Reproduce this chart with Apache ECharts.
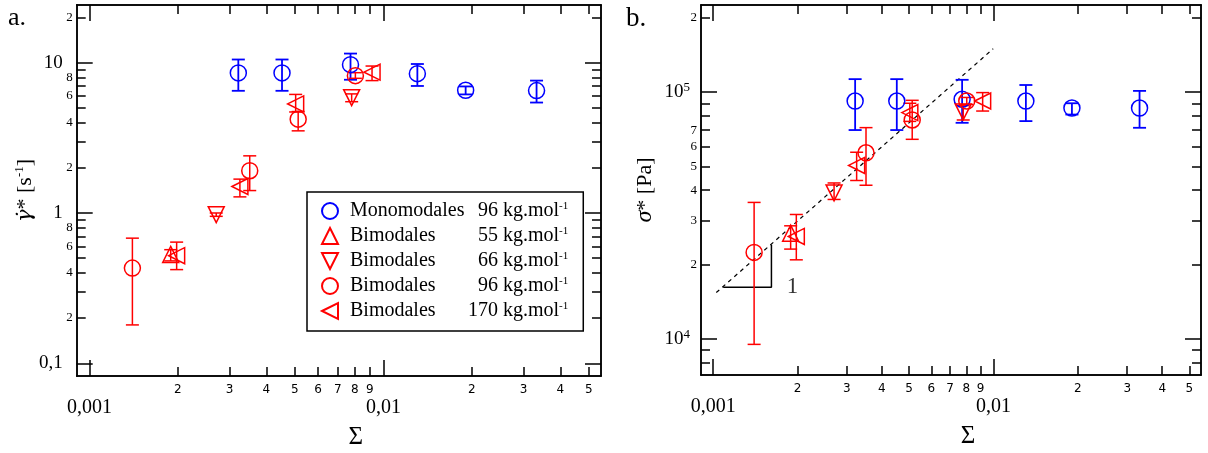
<!DOCTYPE html>
<html>
<head>
<meta charset="utf-8">
<script src="https://cdn.jsdelivr.net/npm/echarts@6/dist/echarts.min.js"></script>
<style>
html,body{margin:0;padding:0;background:#fff;}
#chart{width:1208px;height:453px;}
</style>
</head>
<body>
<div id="chart"></div>
<script>
// ---------- data ----------
// Sigma positions of each sample group
const sigMono = [0.00321, 0.00452, 0.00773, 0.01305, 0.01905, 0.0332];
const sig55   = [0.00189];
const sig66   = [0.0027, 0.0078];
const sig96   = [0.0014, 0.00351, 0.00513, 0.00803];
const sig170  = [0.00198, 0.00325, 0.00503, 0.00915];

// panel a : gamma-dot* [s-1]
const gamMono   = [8.55, 8.55, 9.7, 8.45, 6.55, 6.52];
const gamMonoLo = [6.5, 6.5, 7.7, 7.0, 6.15, 5.43];
const gamMonoHi = [10.5, 10.5, 11.5, 9.8, 6.95, 7.6];
const gam55   = [0.53];  const gam55Lo = [0.48]; const gam55Hi = [0.57];
const gam66   = [0.975, 5.85]; const gam66Lo = [0.95, 5.5]; const gam66Hi = [1.0, 6.2];
const gam96   = [0.43, 1.91, 4.21, 8.2]; const gam96Lo = [0.18, 1.41, 3.52, 7.87]; const gam96Hi = [0.68, 2.4, 4.73, 8.58];
const gam170  = [0.52, 1.5, 5.32, 8.65]; const gam170Lo = [0.42, 1.28, 4.7, 7.6]; const gam170Hi = [0.64, 1.68, 6.15, 9.5];

// panel b : sigma* [Pa]
const sgmMono   = [91900, 91900, 93400, 91900, 86100, 86100];
const sgmMonoLo = [70100, 70100, 75000, 76200, 81000, 71600];
const sgmMonoHi = [112700, 112700, 112000, 106700, 90000, 101000];
const sgm55   = [26800]; const sgm55Lo = [23100]; const sgm55Hi = [28700];
const sgm66   = [39000, 83000]; const sgm66Lo = [36700, 77000]; const sgm66Hi = [42800, 88000];
const sgm96   = [22400, 56700, 77000, 91900]; const sgm96Lo = [9500, 41900, 64300, 89000]; const sgm96Hi = [35700, 71700, 92500, 95000];
const sgm170  = [26000, 50400, 82500, 91900]; const sgm170Lo = [20900, 43800, 76000, 83700]; const sgm170Hi = [31900, 57000, 90000, 99400];

// slope-1 guide line and slope triangle (panel b)
const guideX = [0.001026, 0.00998];
const guideY = [15400, 149700];
const triX = [0.001086, 0.001614, 0.001614];
const triY = [16180, 16180, 24050];
const slopeLabelPos = [0.00192, 16180];

// legend texts
const seriesNames = ['Monomodales 96', 'Bimodales 55', 'Bimodales 66', 'Bimodales 96', 'Bimodales 170'];
const legendKind = ['Monomodales', 'Bimodales', 'Bimodales', 'Bimodales', 'Bimodales'];
const legendMass = ['96', '55', '66', '96', '170'];

// axis ranges & ticks
const xRange = [0.000905, 0.055];
const yRangeA = [0.0823, 24.2];
const yRangeB = [7140, 225000];
const xMajorTicks = [0.001, 0.01];
const xMajorText = ['0,001', '0,01'];
const xMinorTicks = [0.002, 0.003, 0.004, 0.005, 0.006, 0.007, 0.008, 0.009, 0.02, 0.03, 0.04, 0.05];
const yMajorTicksA = [0.1, 1, 10];
const yMajorTextA = ['0,1', '1', '10'];
const yMinorTicksA = [0.2, 0.3, 0.4, 0.5, 0.6, 0.7, 0.8, 0.9, 2, 3, 4, 5, 6, 7, 8, 9, 20];
const yMinorLabelsA = [0.2, 0.4, 0.6, 0.8, 2, 4, 6, 8, 20];
const yMajorTicksB = [10000, 100000];
const yMajorExpB = ['4', '5'];
const yMinorTicksB = [8000, 9000, 20000, 30000, 40000, 50000, 60000, 70000, 80000, 90000, 200000];
const yMinorLabelsB = [20000, 30000, 40000, 50000, 60000, 70000, 200000];

// ---------- helpers ----------
const SERIF = 'Liberation Serif';
const RED = '#ff0000', BLUE = '#0000ff';
function nearestIdx(arr, v) {
  let best = 0, bd = Infinity;
  arr.forEach((a, i) => { const d = Math.abs(Math.log10(a) - Math.log10(v)); if (d < bd) { bd = d; best = i; } });
  return best;
}
function leadDigit(v) {
  return String(Math.round(v / Math.pow(10, Math.floor(Math.log10(v) + 1e-9))));
}
function axis(gridIndex, position, range, tickVals, tickLen, labelVals, labelFmt, labelStyle, extra) {
  return Object.assign({
    type: 'log', logBase: 10, gridIndex, position, min: range[0], max: range[1],
    axisLine: { show: true, lineStyle: { color: '#000', width: 1.5 } },
    axisTick: { show: true, inside: true, length: tickLen, customValues: tickVals, lineStyle: { color: '#000', width: 1.5 } },
    axisLabel: labelVals ? Object.assign({ show: true, customValues: labelVals, formatter: labelFmt, color: '#000' }, labelStyle) : { show: false },
    splitLine: { show: false }, minorTick: { show: false }, minorSplitLine: { show: false },
    axisPointer: { show: false }
  }, extra || {});
}
const minorXLabel = { fontFamily: 'DejaVu Sans', fontSize: 12, margin: 8 };
const majorXLabel = { fontFamily: SERIF, fontSize: 20, margin: 22 };
const minorYLabel = { fontFamily: SERIF, fontSize: 13, margin: 4 };
const majorYLabel = { fontFamily: SERIF, fontSize: 19, margin: 14 };

function xAxesFor(g) {
  return [
    axis(g, 'bottom', xRange, xMinorTicks, 9, xMinorTicks, leadDigit, minorXLabel,
      { name: 'Σ', nameLocation: 'middle', nameGap: 49,
        nameTextStyle: { fontFamily: SERIF, fontSize: 25, color: '#000', padding: [0, 0, 0, 34] } }),
    axis(g, 'top', xRange, xMinorTicks, 9, null),
    axis(g + 1, 'bottom', xRange, xMajorTicks, 16, xMajorTicks, v => xMajorText[nearestIdx(xMajorTicks, v)], majorXLabel),
    axis(g + 1, 'top', xRange, xMajorTicks, 16, null)
  ];
}

const yAxes = [
  axis(0, 'left', yRangeA, yMinorTicksA, 9, yMinorLabelsA, leadDigit, minorYLabel,
    { name: '{g|γ\u0307}{t|* [s}{s|-1}{t|]}', nameLocation: 'middle', nameGap: 38, nameRotate: 90,
      nameTextStyle: { fontFamily: SERIF, fontSize: 22, color: '#000',
        rich: { g: { fontFamily: 'DejaVu Serif', fontSize: 21, fontStyle: 'italic', lineHeight: 26 },
                t: { fontFamily: SERIF, fontSize: 22, lineHeight: 26 },
                s: { fontFamily: SERIF, fontSize: 13, lineHeight: 14, verticalAlign: 'top' } } } }),
  axis(0, 'right', yRangeA, yMinorTicksA, 9, null),
  axis(1, 'left', yRangeA, yMajorTicksA, 16, yMajorTicksA, v => yMajorTextA[nearestIdx(yMajorTicksA, v)], majorYLabel),
  axis(1, 'right', yRangeA, yMajorTicksA, 16, null),
  axis(2, 'left', yRangeB, yMinorTicksB, 9, yMinorLabelsB, leadDigit, minorYLabel,
    { name: '{g|σ}{t|* [Pa]}', nameLocation: 'middle', nameGap: 43, nameRotate: 90,
      nameTextStyle: { fontFamily: SERIF, fontSize: 22, color: '#000',
        rich: { g: { fontFamily: SERIF, fontSize: 24, fontStyle: 'italic', lineHeight: 26 },
                t: { fontFamily: SERIF, fontSize: 22, lineHeight: 26 } } } }),
  axis(2, 'right', yRangeB, yMinorTicksB, 9, null),
  axis(3, 'left', yRangeB, yMajorTicksB, 16, yMajorTicksB, v => '{b|10}{e|' + yMajorExpB[nearestIdx(yMajorTicksB, v)] + '}',
    { fontFamily: SERIF, fontSize: 19, margin: 11,
      rich: { b: { fontFamily: SERIF, fontSize: 19, lineHeight: 22 },
              e: { fontFamily: SERIF, fontSize: 13, lineHeight: 13, verticalAlign: 'top' } } }),
  axis(3, 'right', yRangeB, yMajorTicksB, 16, null)
];

const xAxes = xAxesFor(0).concat(xAxesFor(2));

// ---------- series ----------
const symbols = [
  { symbol: 'circle', rotate: 0, color: BLUE, icon: 'circle' },
  { symbol: 'triangle', rotate: 0, color: RED, icon: 'triangle' },
  { symbol: 'triangle', rotate: 180, color: RED, icon: 'path://M0,0L20,0L10,20Z' },
  { symbol: 'circle', rotate: 0, color: RED, icon: 'circle' },
  { symbol: 'triangle', rotate: 90, color: RED, icon: 'path://M0,10L20,0L20,20Z' }
];
const panelA = [
  [sigMono, gamMono, gamMonoLo, gamMonoHi],
  [sig55, gam55, gam55Lo, gam55Hi],
  [sig66, gam66, gam66Lo, gam66Hi],
  [sig96, gam96, gam96Lo, gam96Hi],
  [sig170, gam170, gam170Lo, gam170Hi]
];
const panelB = [
  [sigMono, sgmMono, sgmMonoLo, sgmMonoHi],
  [sig55, sgm55, sgm55Lo, sgm55Hi],
  [sig66, sgm66, sgm66Lo, sgm66Hi],
  [sig96, sgm96, sgm96Lo, sgm96Hi],
  [sig170, sgm170, sgm170Lo, sgm170Hi]
];

function errorSeries(xi, yi, xs, lo, hi, color, lw) {
  return {
    type: 'custom', name: 'err', xAxisIndex: xi, yAxisIndex: yi, silent: true, z: 3,
    data: xs.map((x, i) => [x, lo[i], hi[i]]),
    encode: { x: 0, y: [1, 2] },
    renderItem: function (params, api) {
      const x = api.value(0), l = api.value(1), h = api.value(2);
      const p1 = api.coord([x, h]), p2 = api.coord([x, l]);
      const w = 6.5;
      const st = { stroke: color, lineWidth: lw };
      return { type: 'group', children: [
        { type: 'line', shape: { x1: p1[0], y1: p1[1], x2: p2[0], y2: p2[1] }, style: st },
        { type: 'line', shape: { x1: p1[0] - w, y1: p1[1], x2: p1[0] + w, y2: p1[1] }, style: st },
        { type: 'line', shape: { x1: p2[0] - w, y1: p2[1], x2: p2[0] + w, y2: p2[1] }, style: st }
      ] };
    }
  };
}

const series = [];
function addPanel(panel, xi, yi) {
  panel.forEach((grp, k) => {
    const sy = symbols[k];
    const lw = sy.color === BLUE ? 1.8 : 1.5;
    series.push(errorSeries(xi, yi, grp[0], grp[2], grp[3], sy.color, lw));
    series.push({
      type: 'scatter', name: seriesNames[k], xAxisIndex: xi, yAxisIndex: yi, z: 4,
      symbol: sy.symbol, symbolRotate: sy.rotate, symbolSize: 16, silent: true,
      itemStyle: { color: 'rgba(255,255,255,0)', borderColor: sy.color, borderWidth: 1.5, opacity: 1 },
      data: grp[0].map((x, i) => [x, grp[1][i]])
    });
  });
}
addPanel(panelA, 0, 0);
addPanel(panelB, 4, 4);

series.push({
  type: 'line', name: 'guide', xAxisIndex: 4, yAxisIndex: 4, symbol: 'none', silent: true, z: 2,
  lineStyle: { color: '#000', width: 1.2, type: [4, 4] },
  data: guideX.map((x, i) => [x, guideY[i]])
});
series.push({
  type: 'line', name: 'slope', xAxisIndex: 4, yAxisIndex: 4, symbol: 'none', silent: true, z: 2,
  lineStyle: { color: '#000', width: 1.5 },
  data: triX.map((x, i) => [x, triY[i]])
});
series.push({
  type: 'scatter', name: 'slopeLabel', xAxisIndex: 4, yAxisIndex: 4, symbolSize: 1, silent: true,
  itemStyle: { color: 'rgba(0,0,0,0)' },
  label: { show: true, position: 'inside', formatter: '1', fontFamily: SERIF, fontSize: 23, color: '#000' },
  data: [slopeLabelPos]
});

const gridBase = { containLabel: false, outerBoundsMode: 'none' };
const option = {
  animation: false,
  backgroundColor: '#fff',
  title: [
    { text: 'a.', left: 3, top: 0, textStyle: { fontFamily: SERIF, fontSize: 26, fontWeight: 'normal', color: '#000' } },
    { text: 'b.', left: 621, top: 0, textStyle: { fontFamily: SERIF, fontSize: 27, fontWeight: 'normal', color: '#000' } }
  ],
  grid: [
    Object.assign({ left: 76.7, top: 5, width: 524.3, height: 371 }, gridBase),
    Object.assign({ left: 76.7, top: 5, width: 524.3, height: 371 }, gridBase),
    Object.assign({ left: 701, top: 5, width: 500, height: 370 }, gridBase),
    Object.assign({ left: 701, top: 5, width: 500, height: 370 }, gridBase)
  ],
  xAxis: xAxes,
  yAxis: yAxes,
  legend: {
    data: seriesNames.map((n, i) => ({ name: n, icon: symbols[i].icon })),
    orient: 'vertical', left: 307, top: 192, selectedMode: false,
    padding: [9, 15, 10, 14], itemGap: 5, itemWidth: 16, itemHeight: 16,
    borderColor: '#000', borderWidth: 1.5, borderRadius: 0, backgroundColor: '#fff',
    textStyle: {
      fontFamily: SERIF, fontSize: 20, color: '#000',
      rich: {
        n2: { fontFamily: SERIF, fontSize: 20, width: 128, padding: [0, 0, 0, 7], lineHeight: 20 },
        n3: { fontFamily: SERIF, fontSize: 20, width: 118, padding: [0, 0, 0, 7], lineHeight: 20 },
        v: { fontFamily: SERIF, fontSize: 20, lineHeight: 20 },
        s: { fontFamily: SERIF, fontSize: 11, lineHeight: 11, verticalAlign: 'top' }
      }
    },
    formatter: function (name) {
      const i = seriesNames.indexOf(name);
      const m = legendMass[i];
      return '{' + (m.length > 2 ? 'n3' : 'n2') + '|' + legendKind[i] + '}{v|' + m + ' kg.mol}{s|-1}';
    }
  },
  series: series
};

const chart = echarts.init(document.getElementById('chart'), null, { renderer: 'canvas' });
chart.setOption(option);
</script>
</body>
</html>
